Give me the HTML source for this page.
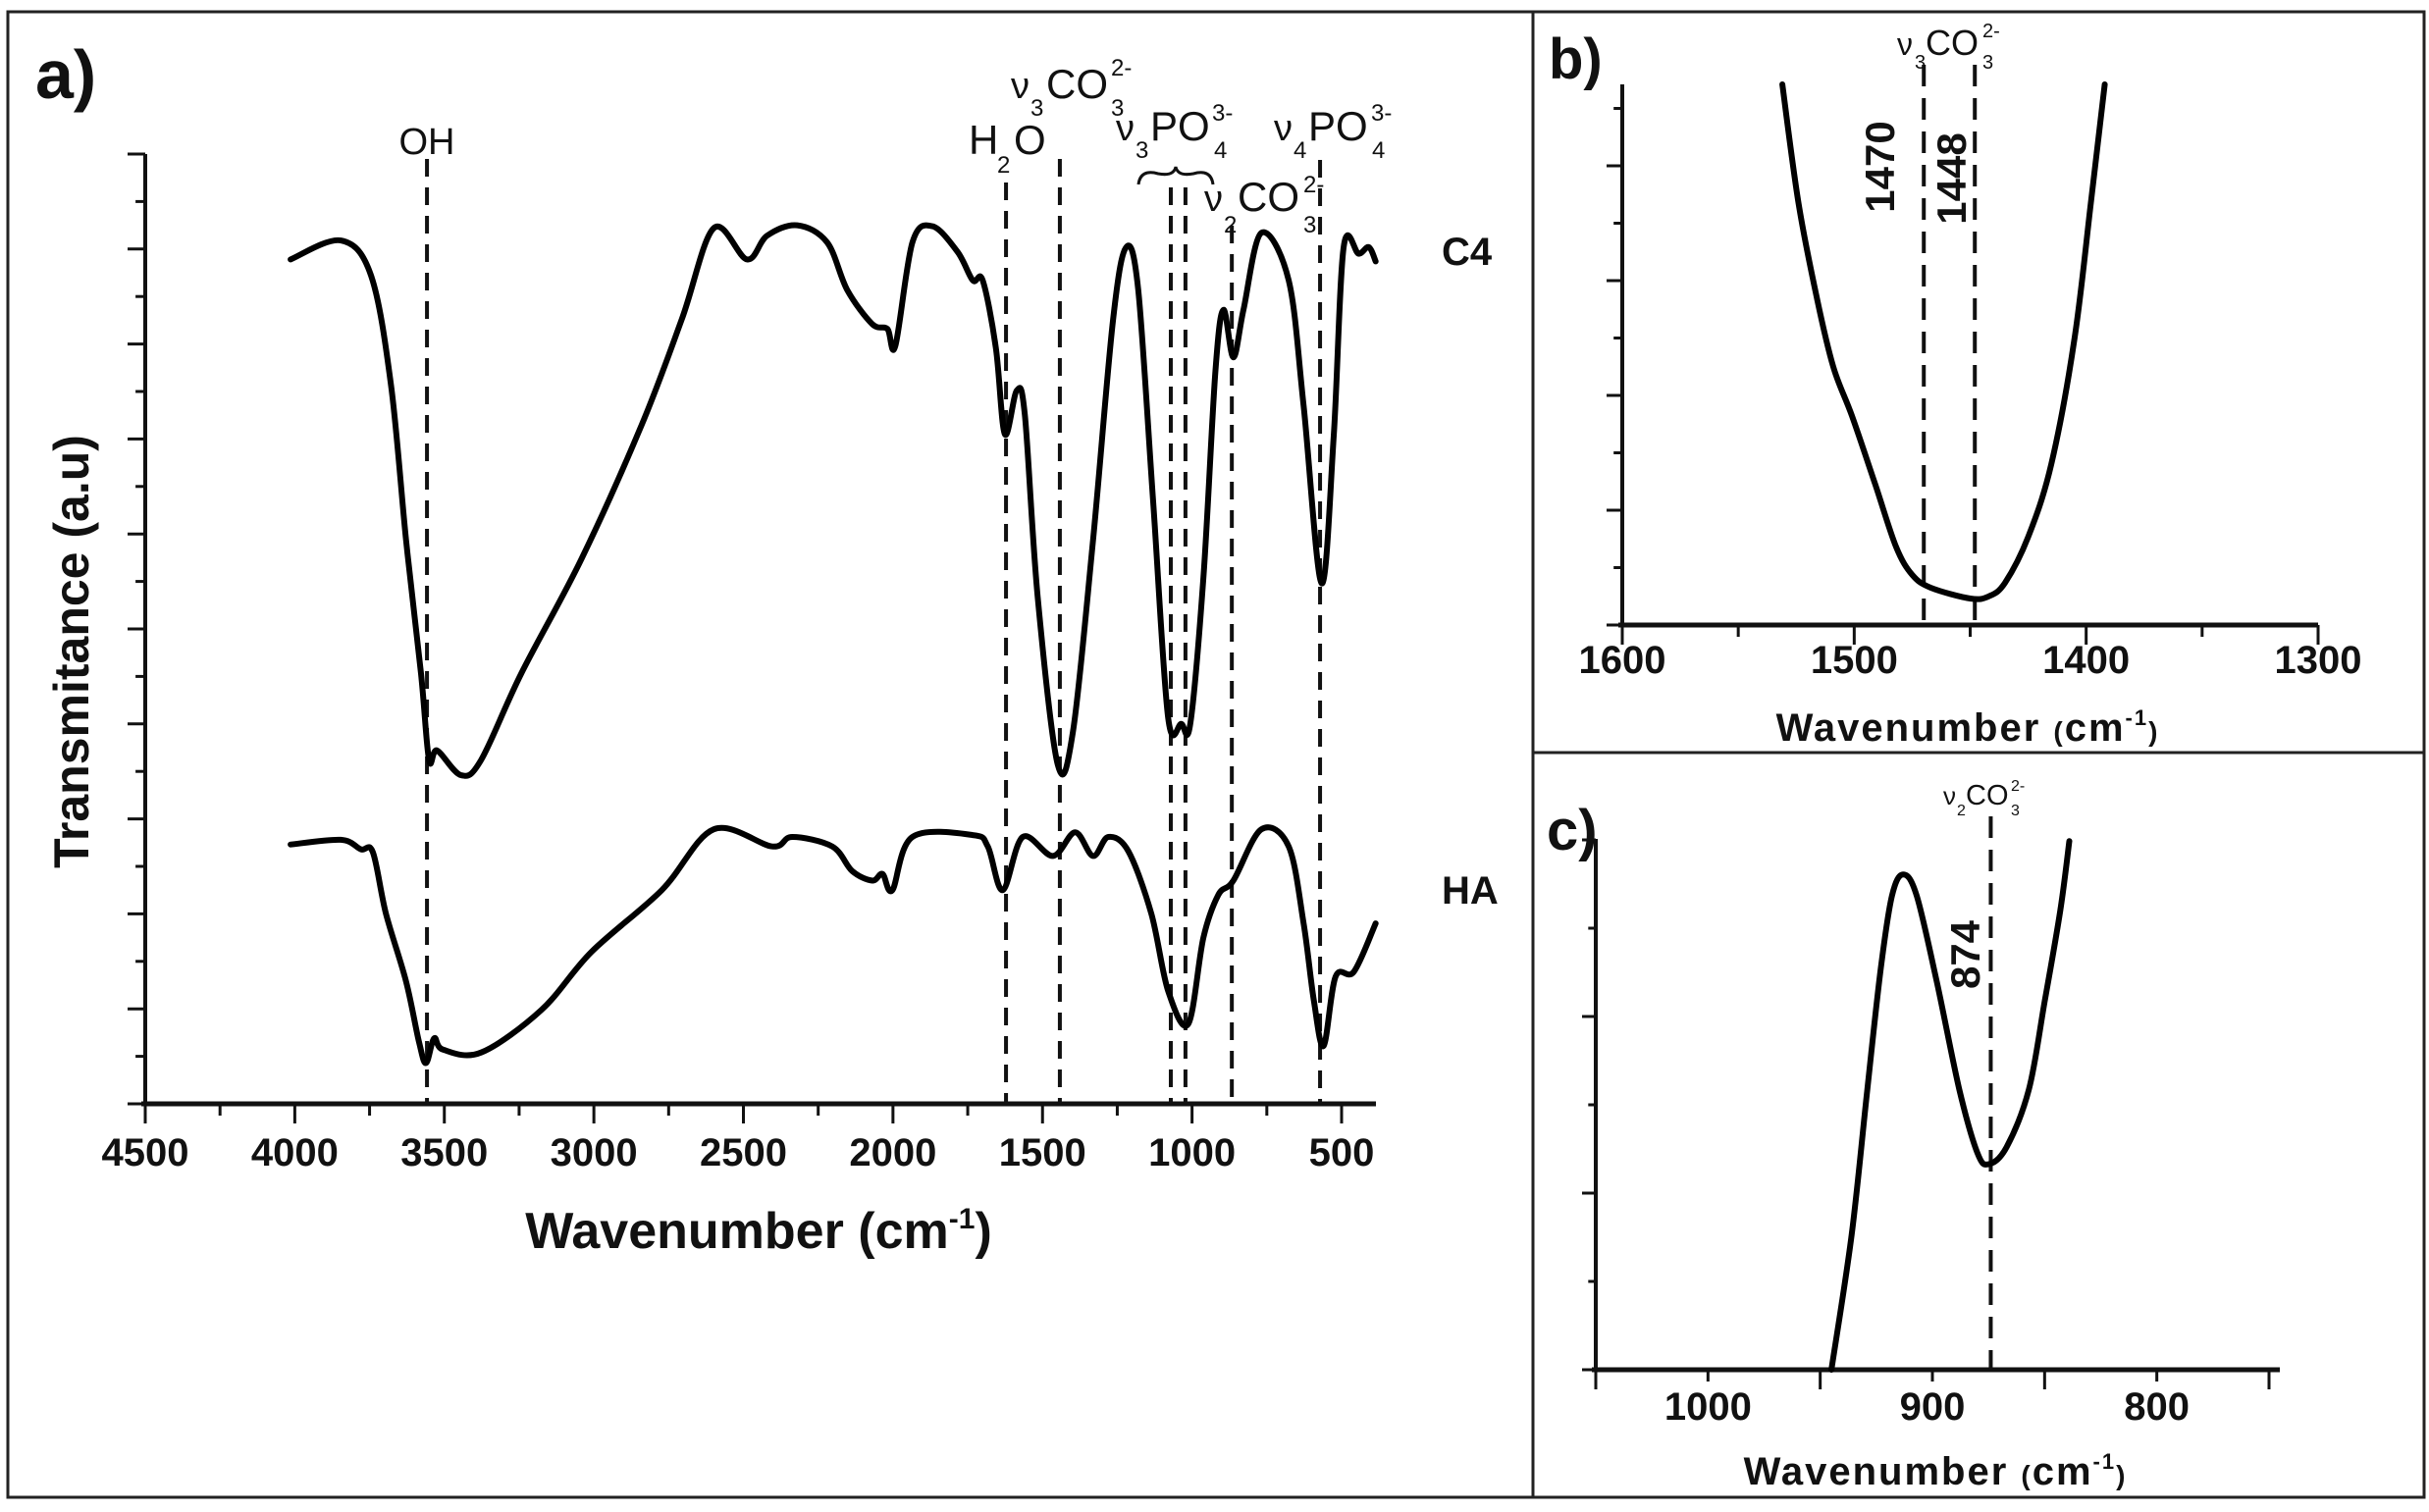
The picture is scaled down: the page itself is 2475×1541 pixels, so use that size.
<!DOCTYPE html>
<html><head><meta charset="utf-8"><style>
html,body{margin:0;padding:0;background:#fff;}
svg text{font-family:"Liberation Sans",sans-serif;fill:#111;}
</style></head><body>
<svg id="fig" width="2475" height="1536" viewBox="0 0 2475 1536" xmlns="http://www.w3.org/2000/svg">
<rect x="8" y="12" width="2462" height="1514" fill="none" stroke="#222" stroke-width="3"/>
<line x1="1562" y1="12" x2="1562" y2="1526" stroke="#222" stroke-width="3"/>
<line x1="1562" y1="767" x2="2470" y2="767" stroke="#222" stroke-width="3"/>
<g id="pa"></g>
<g id="pb"></g>
<g id="pc"></g>
<g id="ann">
<text x="36" y="100" font-size="70" font-weight="bold">a)</text>
<text x="1578" y="80" font-size="58" font-weight="bold">b)</text>
<text x="1576" y="866" font-size="58" font-weight="bold">c)</text>
<text x="435" y="157" font-size="38" text-anchor="middle">OH</text>
<g><text x="987" y="157" font-size="42">H</text><text x="1016" y="176" font-size="24">2</text><text x="1033" y="157" font-size="42">O</text></g>
<g><text x="1030" y="100" font-size="38">ν</text><text x="1050" y="118" font-size="24">3</text><text x="1066" y="100" font-size="42">CO</text><text x="1132" y="77" font-size="24">2-</text><text x="1132" y="118" font-size="24">3</text></g>
<g><text x="1137" y="143" font-size="38">ν</text><text x="1157" y="161" font-size="24">3</text><text x="1172" y="143" font-size="42">PO</text><text x="1235" y="123" font-size="24">3-</text><text x="1237" y="161" font-size="24">4</text></g>
<g><text x="1298" y="143" font-size="38">ν</text><text x="1318" y="161" font-size="24">4</text><text x="1333" y="143" font-size="42">PO</text><text x="1397" y="123" font-size="24">3-</text><text x="1398" y="161" font-size="24">4</text></g>
<g><text x="1227" y="215" font-size="38">ν</text><text x="1247" y="237" font-size="24">2</text><text x="1261" y="215" font-size="42">CO</text><text x="1328" y="196" font-size="24">2-</text><text x="1328" y="237" font-size="24">3</text></g>
<path d="M1160,188 Q1162,172 1180,177 Q1196,180 1198,170 Q1200,180 1216,177 Q1234,172 1236,188" fill="none" stroke="#111" stroke-width="3"/>
<text x="1469" y="270" font-size="40" font-weight="bold">C4</text>
<text x="1469" y="921" font-size="40" font-weight="bold">HA</text>
<text transform="translate(90,664) rotate(-90)" font-size="50" font-weight="bold" text-anchor="middle">Transmitance (a.u)</text>
<text x="773" y="1272" font-size="52" font-weight="bold" text-anchor="middle">Wavenumber (cm<tspan dy="-20" font-size="30">-1</tspan><tspan dy="20">)</tspan></text>
<text x="2005" y="755" font-size="40" font-weight="bold" text-anchor="middle" letter-spacing="2">Wavenumber <tspan font-size="28">(</tspan>cm<tspan dy="-16" font-size="22">-1</tspan><tspan dy="16" font-size="28">)</tspan></text>
<text x="1972" y="1513" font-size="40" font-weight="bold" text-anchor="middle" letter-spacing="2">Wavenumber <tspan font-size="28">(</tspan>cm<tspan dy="-16" font-size="22">-1</tspan><tspan dy="16" font-size="28">)</tspan></text>
<g><text x="1933" y="56" font-size="32">ν</text><text x="1951" y="70" font-size="20">3</text><text x="1962" y="56" font-size="36">CO</text><text x="2020" y="38" font-size="20">2-</text><text x="2020" y="70" font-size="20">3</text></g>
<g><text x="1980" y="820" font-size="26">ν</text><text x="1994" y="831" font-size="16">2</text><text x="2003" y="820" font-size="29">CO</text><text x="2049" y="806" font-size="16">2-</text><text x="2049" y="831" font-size="16">3</text></g>
<text transform="translate(1930,170) rotate(-90)" font-size="42" font-weight="bold" text-anchor="middle">1470</text>
<text transform="translate(2003,182) rotate(-90)" font-size="42" font-weight="bold" text-anchor="middle">1448</text>
<text transform="translate(2017,973) rotate(-90)" font-size="42" font-weight="bold" text-anchor="middle">874</text>
</g>
</svg>
<script>
// Panel a data
const c4Wave = [4014,3846,3745,3678,3628,3578,3551,3524,3444,3377,3243,3041,2840,2706,2599,2488,2421,2320,2220,2153,2069,2019,1992,1935,1868,1784,1733,1700,1656,1626,1586,1559,1516,1449,1398,1331,1264,1220,1180,1130,1080,1036,1006,962,922,895,862,828,768,677,627,567,526,493,443,409,386];
const c4Trans = [88.9,90.9,87.2,75.6,59.4,45.3,36.2,37.2,34.6,36.2,45.3,57.4,71.5,82.6,92.2,88.9,91.4,92.5,90.7,85.7,82.1,81.6,79.8,90.7,92.4,89.7,86.7,86.7,79.6,70.5,75.1,72.5,53.3,35.7,39.2,59.4,82.6,90.2,85.7,63.4,40.7,40,40,55.4,77.1,83.6,78.6,83.6,91.7,86.7,73.5,54.8,70.5,90.2,89.5,90.2,88.7];
const haWave = [4014,3846,3779,3739,3695,3628,3584,3561,3534,3504,3377,3175,3008,2773,2599,2404,2337,2203,2136,2069,2035,2002,1935,1733,1683,1633,1566,1465,1391,1331,1280,1213,1136,1080,1013,962,912,862,768,677,627,593,560,520,459,386];
const haTrans = [27.3,27.8,26.8,26.5,20,12.9,6.4,4.3,6.9,5.7,5.4,9.9,16,22.5,28.9,27.1,28.1,27.1,24.5,23.5,24.2,22.5,28.1,28.3,27.1,22.5,28.1,26.1,28.6,26.1,28.1,26.6,20,11.9,8.4,17.5,22,23.5,28.9,27.1,19,10.9,6.1,13.4,13.9,19];
const aTicks = [4500,4000,3500,3000,2500,2000,1500,1000,500];
const aPeaks = [3558,1622,1442,1071,1022,867,572];
const aPeakTops = [162,186,162,191,191,230,163];
// Panel b data
const bWave = [1531,1524,1516,1509,1501,1491,1482,1475,1467,1450,1442,1435,1425,1415,1405,1398,1392];
const bTrans = [100,78,60.3,47.7,38.7,26.1,14.5,9.3,6.9,4.9,5.3,7.8,16.3,29.8,53,78,100];
const bTicks = [1600,1500,1400,1300];
const bPeaks = [1470,1448];
// Panel c data
const cWave = [945,936,929,923,918,913,907,898,888,880,875,867,857,850,843,839];
const cTrans = [0,25.4,52.8,75.6,89.3,93.3,89.3,73,52.8,40.9,38.7,41.9,52.8,69.3,86.5,99.6];
const cTicks = [1000,900,800];
const cPeaks = [874];

const NS = 'http://www.w3.org/2000/svg';
function mk(parent, tag, attrs){const e=document.createElementNS(NS,tag);for(const k in attrs)e.setAttribute(k,attrs[k]);parent.appendChild(e);return e;}
function smooth(pts){let d='M'+pts[0][0].toFixed(1)+','+pts[0][1].toFixed(1);
 for(let i=0;i<pts.length-1;i++){const p0=pts[Math.max(0,i-1)],p1=pts[i],p2=pts[i+1],p3=pts[Math.min(pts.length-1,i+2)];
  const c1=[p1[0]+(p2[0]-p0[0])/6,p1[1]+(p2[1]-p0[1])/6],c2=[p2[0]-(p3[0]-p1[0])/6,p2[1]-(p3[1]-p1[1])/6];
  d+=' C'+c1[0].toFixed(1)+','+c1[1].toFixed(1)+' '+c2[0].toFixed(1)+','+c2[1].toFixed(1)+' '+p2[0].toFixed(1)+','+p2[1].toFixed(1);}
 return d;}

function panel(g, o){
 const sx=w=>o.x0+(o.w0-w)*(o.x1-o.x0)/(o.w0-o.w1);
 const sy=t=>o.y0-t*(o.y0-o.yt)/100;
 const ya=mk(g,'line',{x1:o.x0,y1:o.yt,x2:o.x0,y2:o.y0,stroke:'#111','stroke-width':4});
 
 
 const xa=mk(g,'line',{x1:o.x0-4,y1:o.y0,x2:o.xend,y2:o.y0,stroke:'#111','stroke-width':5});
 
 
 for(let i=0;;i++){const y=o.y0-i*o.ytStep/2; if(y<o.yt-2)break;
  const major=i%2===0;
  const t=mk(g,'line',{x1:o.x0-(major?o.tl:o.tl*0.55),y1:y,x2:o.x0,y2:y,stroke:'#111','stroke-width':3});
  
  }
 const step=o.tickStep/2;
 for(let w=o.w0;w>=o.wend-1;w-=step){const x=sx(w);const major=Math.abs((o.w0-w)/o.tickStep-Math.round((o.w0-w)/o.tickStep))<1e-6;
  const t=mk(g,'line',{x1:x,y1:o.y0,x2:x,y2:o.y0+(major?20:12),stroke:'#111','stroke-width':3});
  
  }
 o.ticks.forEach(v=>{const t=mk(g,'text',{x:sx(v),y:o.labY,'font-size':o.fs,'font-weight':'bold','text-anchor':'middle'});t.textContent=v;
  
  });
 o.peaks.forEach((p,i)=>{const l=mk(g,'line',{x1:sx(p),y1:o.peakTops[i],x2:sx(p),y2:o.y0,stroke:'#111','stroke-width':4,'stroke-dasharray':o.dash});
  
  });
 o.series.forEach(s=>{const pts=s.w.map((w,i)=>[sx(w),sy(s.t[i])]);
  const p=mk(g,'path',{d:smooth(pts),fill:'none',stroke:'#000','stroke-width':6,'stroke-linejoin':'round','stroke-linecap':'round'});
  
  });
}
panel(document.getElementById('pa'),{x0:148,x1:1367,w0:4500,w1:500,xend:1402,wend:500,y0:1125,yt:157,ytStep:96.8,tl:18,tickStep:500,
 ticks:aTicks,labY:1188,fs:40,peaks:aPeaks,peakTops:aPeakTops,dash:'18 11',
 series:[{w:c4Wave,t:c4Trans,name:'c4-spectrum'},{w:haWave,t:haTrans,name:'ha-spectrum'}]});
panel(document.getElementById('pb'),{x0:1653,x1:2362,w0:1600,w1:1300,xend:2362,wend:1300,y0:637,yt:86,ytStep:117,tl:16,tickStep:100,
 ticks:bTicks,labY:686,fs:40,peaks:bPeaks,peakTops:[66,66],dash:'22 12',
 series:[{w:bWave,t:bTrans,name:'b-spectrum'}]});
panel(document.getElementById('pc'),{x0:1626,x1:2312,w0:1050,w1:750,xend:2323,wend:750,y0:1396,yt:855,ytStep:180,tl:14,tickStep:100,
 ticks:cTicks,labY:1447,fs:40,peaks:cPeaks,peakTops:[832],dash:'22 12',
 series:[{w:cWave,t:cTrans,name:'c-spectrum'}]});
</script>
</body></html>
